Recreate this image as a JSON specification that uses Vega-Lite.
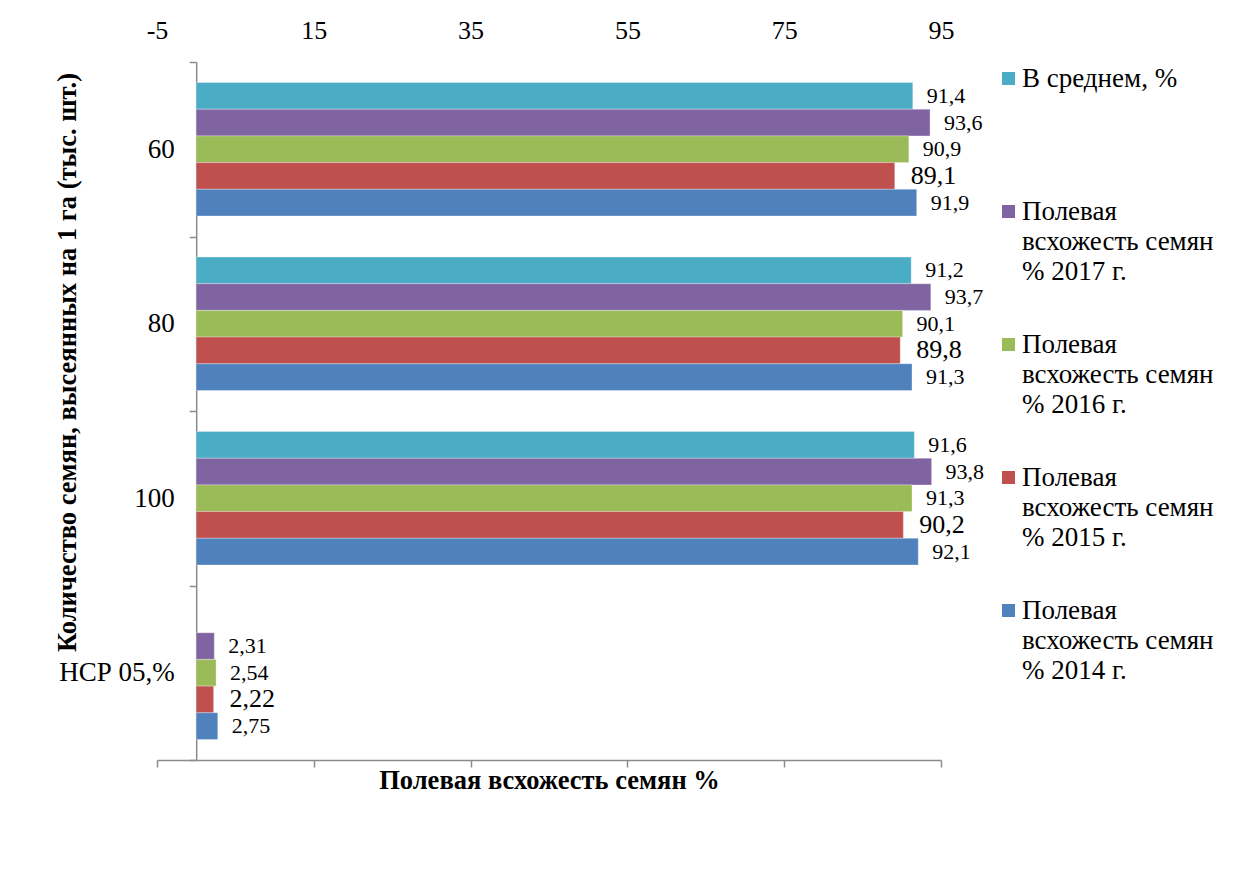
{
  "$schema": "https://vega.github.io/schema/vega-lite/v6.json",
  "width": 784,
  "height": 698,
  "autosize": {"type": "none"},
  "padding": {"left": 157, "top": 62, "right": 295, "bottom": 110},
  "background": "white",
  "config": {
    "font": "Liberation Serif",
    "view": {"stroke": null},
    "locale": {"number": {"decimal": ",", "thousands": " ", "grouping": [3], "currency": ["", ""], "minus": "-"}},
    "style": {"guide-label": {"lineHeight": 30}}
  },
  "data": {
    "values": [
      {"cat": "60", "series": "В среднем, %", "value": 91.4},
      {"cat": "60", "series": "Полевая всхожесть семян % 2017 г.", "value": 93.6},
      {"cat": "60", "series": "Полевая всхожесть семян % 2016 г.", "value": 90.9},
      {"cat": "60", "series": "Полевая всхожесть семян % 2015 г.", "value": 89.1},
      {"cat": "60", "series": "Полевая всхожесть семян % 2014 г.", "value": 91.9},
      {"cat": "80", "series": "В среднем, %", "value": 91.2},
      {"cat": "80", "series": "Полевая всхожесть семян % 2017 г.", "value": 93.7},
      {"cat": "80", "series": "Полевая всхожесть семян % 2016 г.", "value": 90.1},
      {"cat": "80", "series": "Полевая всхожесть семян % 2015 г.", "value": 89.8},
      {"cat": "80", "series": "Полевая всхожесть семян % 2014 г.", "value": 91.3},
      {"cat": "100", "series": "В среднем, %", "value": 91.6},
      {"cat": "100", "series": "Полевая всхожесть семян % 2017 г.", "value": 93.8},
      {"cat": "100", "series": "Полевая всхожесть семян % 2016 г.", "value": 91.3},
      {"cat": "100", "series": "Полевая всхожесть семян % 2015 г.", "value": 90.2},
      {"cat": "100", "series": "Полевая всхожесть семян % 2014 г.", "value": 92.1},
      {"cat": "НСР 05,%", "series": "Полевая всхожесть семян % 2017 г.", "value": 2.31},
      {"cat": "НСР 05,%", "series": "Полевая всхожесть семян % 2016 г.", "value": 2.54},
      {"cat": "НСР 05,%", "series": "Полевая всхожесть семян % 2015 г.", "value": 2.22},
      {"cat": "НСР 05,%", "series": "Полевая всхожесть семян % 2014 г.", "value": 2.75}
    ]
  },
  "encoding": {
    "y": {
      "field": "cat", "type": "nominal",
      "sort": ["60", "80", "100", "НСР 05,%"],
      "scale": {"paddingInner": 0, "paddingOuter": 0},
      "axis": {
        "title": "Количество семян, высеянных на 1 га (тыс. шт.)",
        "offset": -39.2,
        "tickBand": "extent",
        "tickSize": 7, "tickColor": "#8c8c8c", "tickWidth": 1.5,
        "domainColor": "#8c8c8c", "domainWidth": 1.5,
        "labelFontSize": 27, "labelPadding": 15, "labelColor": "#000000", "labelAngle": 0,
        "titleFontSize": 26.5, "titleFontWeight": "bold", "titleColor": "#000000",
        "titleAngle": -90, "titleX": -129, "titleY": 300,
        "titleAlign": "center", "titleBaseline": "middle",
        "grid": false
      }
    },
    "yOffset": {
      "field": "series", "type": "nominal",
      "sort": ["В среднем, %", "Полевая всхожесть семян % 2017 г.", "Полевая всхожесть семян % 2016 г.", "Полевая всхожесть семян % 2015 г.", "Полевая всхожесть семян % 2014 г."],
      "scale": {"paddingInner": 0, "paddingOuter": 0.77}
    }
  },
  "layer": [
    {
      "mark": {"type": "bar", "stroke": "#ffffff", "strokeWidth": 0.6, "strokeOpacity": 0.5},
      "encoding": {
        "x": {
          "field": "value", "type": "quantitative", "stack": null,
          "scale": {"domain": [-5, 95], "nice": false, "zero": false},
          "axis": {
            "orient": "bottom", "values": [-5, 15, 35, 55, 75, 95],
            "labels": false, "grid": false,
            "tickSize": 7, "tickColor": "#8c8c8c", "tickWidth": 1.5,
            "domainColor": "#8c8c8c", "domainWidth": 1.5,
            "title": "Полевая всхожесть семян %",
            "titleFontSize": 26.5, "titleFontWeight": "bold", "titleColor": "#000000",
            "titleX": 392, "titleY": 20, "titleAlign": "center", "titleBaseline": "middle"
          }
        },
        "color": {
          "field": "series", "type": "nominal",
          "scale": {
            "domain": ["В среднем, %", "Полевая всхожесть семян % 2017 г.", "Полевая всхожесть семян % 2016 г.", "Полевая всхожесть семян % 2015 г.", "Полевая всхожесть семян % 2014 г."],
            "range": ["#4BACC6", "#8064A2", "#9BBB59", "#C0504D", "#4F81BD"]
          },
          "legend": {
            "title": null,
            "orient": "none",
            "legendX": 838,
            "legendY": 3,
            "padding": 0,
            "direction": "vertical",
            "columns": 1,
            "rowPadding": 45,
            "symbolType": "square",
            "symbolSize": 169,
            "symbolStrokeWidth": 0,
            "symbolOffset": 0,
            "labelOffset": 0,
            "labelFontSize": 27,
            "labelColor": "#000000",
            "labelBaseline": "middle",
            "labelLimit": 600,
            "labelExpr": "datum.label === 'В среднем, %' ? [datum.label, '\u00a0', '\u00a0'] : ['Полевая', 'всхожесть семян', slice(datum.label, 24)]"
          }
        }
      }
    },
    {
      "transform": [{"filter": "datum.series !== 'Полевая всхожесть семян % 2015 г.'"}],
      "mark": {"type": "text", "align": "left", "baseline": "middle", "dx": 14, "fontSize": 22, "color": "#000000"},
      "encoding": {
        "x": {
          "field": "value", "type": "quantitative",
          "axis": {
            "orient": "top", "values": [-5, 15, 35, 55, 75, 95],
            "domain": false, "ticks": false, "tickSize": 0, "grid": false,
            "labelFlush": false, "labelOverlap": false,
            "labelFontSize": 26, "labelPadding": 19, "labelColor": "#000000",
            "title": null
          }
        },
        "text": {"field": "value", "type": "quantitative", "format": "~g"}
      }
    },
    {
      "transform": [{"filter": "datum.series === 'Полевая всхожесть семян % 2015 г.'"}],
      "mark": {"type": "text", "align": "left", "baseline": "middle", "dx": 16, "fontSize": 26, "color": "#000000"},
      "encoding": {
        "x": {"field": "value", "type": "quantitative", "axis": null},
        "text": {"field": "value", "type": "quantitative", "format": "~g"}
      }
    }
  ],
  "resolve": {"axis": {"x": "independent"}}
}
